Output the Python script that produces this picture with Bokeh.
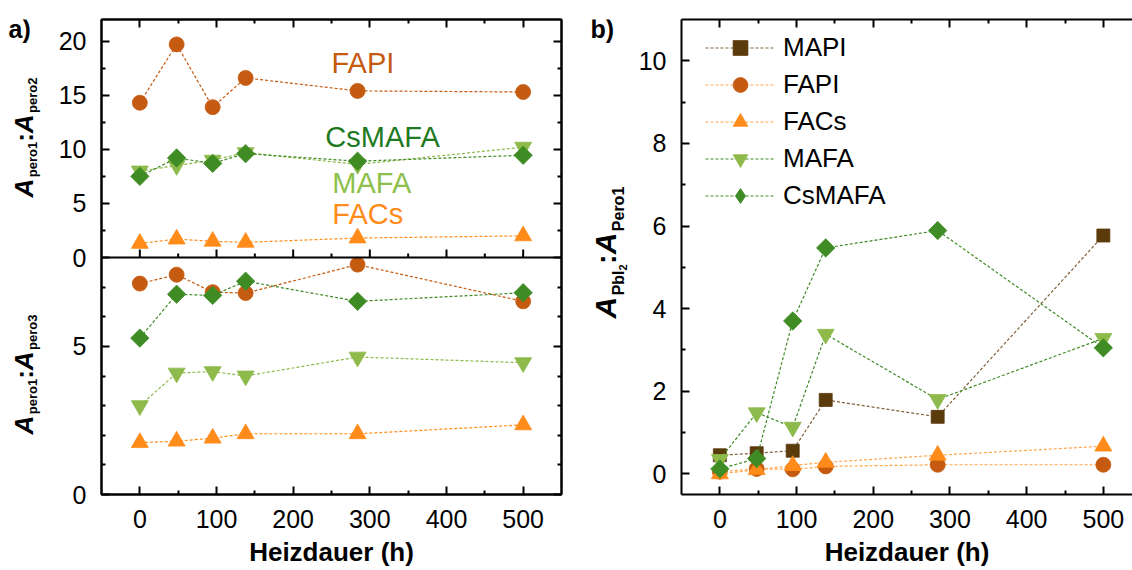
import numpy as np
from bokeh.plotting import figure
from bokeh.models import Range1d, LinearAxis, Label, Legend, LegendItem, FixedTicker, Span
from bokeh.layouts import row
from bokeh.embed import file_html
from bokeh.resources import INLINE

FONT = "Liberation Sans"

# ---------------- data ----------------
hours = [0, 48, 95, 138, 284, 500]

# panel a (top): A_pero1 : A_pero2
top_fapi = [14.3, 19.7, 13.9, 16.6, 15.4, 15.3]
top_csmafa = [7.5, 9.2, 8.7, 9.6, 8.9, 9.45]
top_mafa = [8.0, 8.5, 9.0, 9.7, 8.6, 10.2]
top_facs = [1.3, 1.7, 1.5, 1.4, 1.8, 2.0]

# panel a (bottom): A_pero1 : A_pero3
bot_fapi = [7.12, 7.42, 6.83, 6.8, 7.76, 6.52]
bot_csmafa = [5.28, 6.76, 6.72, 7.2, 6.52, 6.81]
bot_mafa = [3.0, 4.1, 4.15, 4.0, 4.64, 4.45]
bot_facs = [1.75, 1.8, 1.9, 2.05, 2.05, 2.35]

# panel b: A_PbI2 : A_Pero1
b_mapi = [0.45, 0.5, 0.56, 1.79, 1.38, 5.77]
b_fapi = [0.05, 0.12, 0.11, 0.18, 0.22, 0.22]
b_facs = [0.0, 0.1, 0.2, 0.28, 0.45, 0.67]
b_mafa = [0.35, 1.48, 1.13, 3.38, 1.8, 3.28]
b_csmafa = [0.12, 0.37, 3.7, 5.47, 5.89, 3.05]

series_names = ["MAPI", "FAPI", "FACs", "MAFA", "CsMAFA"]
x_ticks = [0, 100, 200, 300, 400, 500]
x_minor = [50, 150, 250, 350, 450]
top_ticks = [0, 5, 10, 15, 20]
top_minor = [2.5, 7.5, 12.5, 17.5]
bot_ticks = [0, 5]
bot_minor = [1, 2, 3, 4, 6, 7]
b_ticks = [0, 2, 4, 6, 8, 10]
b_minor = [1, 3, 5, 7, 9]

# in-plot labels of panel a (top)
a_label_text = ["FAPI", "CsMAFA", "MAFA", "FACs"]
a_label_x = [250, 242, 251, 251]
a_label_y = [17.95, 11.15, 6.9, 4.0]

# ---------------- styles ----------------
C_MAPI = "#5B3A0C"
C_MAPI_LINE = "#80603A"
C_FAPI = "#C55A11"
C_FACS = "#FF8C1A"
C_FACS_LINE = "#FFA64D"
C_MAFA = "#8DBA4B"
C_CSMAFA = "#3F8B24"
a_label_colors = [C_FAPI, "#1F7A1F", "#8DC04B", C_FACS]
DASH = "3 2"

TOP_B, BOT_B = 19, 76          # border above / below every frame (px)

W = {'A': 0.722, 'p': 0.611, 'e': 0.556, 'r': 0.389, 'o': 0.611, '1': 0.556,
     '2': 0.556, '3': 0.556, ':': 0.333, 'P': 0.667, 'b': 0.611, 'I': 0.278}


def tw(s, size):
    return sum(W[c] for c in s) * size


def label_fig(width):
    # a plain strip whose frame coordinates equal page pixels (y downwards)
    p = figure(width=width, height=570, x_range=Range1d(0, width),
               y_range=Range1d(570 - BOT_B, TOP_B),
               output_backend="svg", toolbar_location=None,
               x_axis_location=None, y_axis_location=None,
               min_border_left=0, min_border_right=0,
               min_border_top=TOP_B, min_border_bottom=BOT_B)
    p.grid.visible = False
    p.outline_line_color = None
    p.background_fill_color = "white"
    p.border_fill_color = "white"
    return p


def rich_ylabel(p, segments, y_start):
    # segments: (text, size, style, x of vertical middle); text reads bottom -> top
    y = y_start
    for text, size, style, xm in segments:
        p.add_layout(Label(x=xm, y=y, text=text, angle=np.pi / 2, text_font=FONT,
                           text_font_size=f"{size}px", text_font_style=style,
                           text_align="left", text_baseline="middle",
                           text_color="black"))
        y -= tw(text, size) + (1.5 if "italic" in style else 0)


def add_axis(p, side, ticks, minor, labels, overrides=None, standoff=15):
    ax = LinearAxis(ticker=FixedTicker(ticks=ticks, minor_ticks=minor))
    ax.axis_line_width = 2
    ax.axis_line_color = "black"
    ax.major_tick_in = 8
    ax.major_tick_out = 0
    ax.minor_tick_in = 4
    ax.minor_tick_out = 0
    ax.major_tick_line_width = 2
    ax.minor_tick_line_width = 2
    ax.major_label_text_font = FONT
    if labels:
        ax.major_label_text_color = "black"
        ax.major_label_text_font_size = "25px"
        ax.major_label_standoff = standoff
    else:
        ax.major_label_text_color = None
        ax.major_label_text_font_size = "1px"
        ax.major_label_standoff = 0
    if overrides:
        ax.major_label_overrides = overrides
    ax.axis_label_text_font = FONT
    ax.axis_label_text_font_size = "26px"
    ax.axis_label_text_font_style = "bold"
    ax.axis_label_text_color = "black"
    ax.axis_label_standoff = 6
    p.add_layout(ax, side)
    return ax


def make_fig(width, xr, yr, left_b, right_b, outline=True):
    p = figure(width=width, height=570, x_range=xr, y_range=yr,
               output_backend="svg", toolbar_location=None,
               x_axis_location=None, y_axis_location=None,
               min_border_left=left_b, min_border_right=right_b,
               min_border_top=TOP_B, min_border_bottom=BOT_B)
    p.grid.visible = False
    p.background_fill_color = "white"
    p.border_fill_color = "white"
    if outline:
        p.outline_line_color = "black"
        p.outline_line_width = 2
        p.outline_line_alpha = 1
    else:
        p.outline_line_color = None
    return p


def series(p, x, y, line_color, marker, fill, size, angle=0.0, rng="default"):
    lr = p.line(x, y, line_color=line_color, line_width=1.2, line_dash=DASH,
                y_range_name=rng)
    sr = p.scatter(x, y, marker=marker, size=size, fill_color=fill,
                   line_color=fill, line_width=0.8, angle=angle, y_range_name=rng)
    return lr, sr


DIAMOND = dict(marker="square", size=13, angle=np.pi / 4)

# ---------------- panel a (two stacked sub-panels in one frame) ----------------
FRAME_H = 570 - TOP_B - BOT_B   # 475 px
SPLIT = 237                     # px of the lower sub-panel
bot_max = 8
top_max = 22
yd_end = bot_max * FRAME_H / SPLIT
top_start = -top_max * SPLIT / (FRAME_H - SPLIT)


def top_to_def(v):
    return bot_max + v * (yd_end - bot_max) / top_max


pa = make_fig(530, Range1d(-50, 550), Range1d(0, yd_end), 51, 19)
pa.extra_y_ranges = {"top": Range1d(top_start, top_max)}

left_major = [float(v) for v in bot_ticks] + [top_to_def(v) for v in top_ticks]
left_minor = [float(v) for v in bot_minor] + [top_to_def(v) for v in top_minor]
overrides = {float(v): str(v) for v in bot_ticks}
overrides.update({top_to_def(v): str(v) for v in top_ticks})

add_axis(pa, "left", left_major, left_minor, True, overrides)
add_axis(pa, "right", left_major, left_minor, False)
add_axis(pa, "above", x_ticks, x_minor, False)
axb = add_axis(pa, "below", x_ticks, x_minor, True, standoff=15)
axb.axis_label = "Heizdauer (h)"

pa.add_layout(Span(location=bot_max, dimension="width", line_color="black", line_width=2))
px_per_top = (FRAME_H - SPLIT) / top_max
pa.segment(x0=x_ticks, y0=[0] * len(x_ticks), x1=x_ticks, y1=[8 / px_per_top] * len(x_ticks),
           line_color="black", line_width=2, y_range_name="top")
pa.segment(x0=x_minor, y0=[0] * len(x_minor), x1=x_minor, y1=[4 / px_per_top] * len(x_minor),
           line_color="black", line_width=2, y_range_name="top")

# upper sub-panel
series(pa, hours, top_facs, C_FACS, "triangle", C_FACS, 17, rng="top")
series(pa, hours, top_mafa, C_MAFA, "inverted_triangle", C_MAFA, 17, rng="top")
series(pa, hours, top_csmafa, C_CSMAFA, DIAMOND["marker"], C_CSMAFA, DIAMOND["size"],
       DIAMOND["angle"], rng="top")
series(pa, hours, top_fapi, C_FAPI, "circle", C_FAPI, 15, rng="top")

for t, xx, yy, c in zip(a_label_text, a_label_x, a_label_y, a_label_colors):
    pa.add_layout(Label(x=xx, y=yy, text=t, text_font=FONT, text_font_size="29px",
                        text_color=c, text_align="left", text_baseline="middle",
                        y_range_name="top"))

# lower sub-panel
series(pa, hours, bot_facs, C_FACS, "triangle", C_FACS, 17)
series(pa, hours, bot_mafa, C_MAFA, "inverted_triangle", C_MAFA, 17)
series(pa, hours, bot_fapi, C_FAPI, "circle", C_FAPI, 15)
series(pa, hours, bot_csmafa, C_CSMAFA, DIAMOND["marker"], C_CSMAFA, DIAMOND["size"],
       DIAMOND["angle"])

# label strip for panel a
la = label_fig(50)
la.add_layout(Label(x=8, y=28, text="a)", text_font=FONT, text_font_size="25px",
                    text_font_style="bold", text_color="black",
                    text_align="left", text_baseline="middle"))
rich_ylabel(la, [("A", 26, "bold italic", 23.5), ("pero1", 13, "bold", 31.5),
                 (":", 26, "bold", 23.5), ("A", 26, "bold italic", 23.5),
                 ("pero2", 13, "bold", 31.5)], 197)
rich_ylabel(la, [("A", 26, "bold italic", 23.5), ("pero1", 13, "bold", 31.5),
                 (":", 26, "bold", 23.5), ("A", 26, "bold italic", 23.5),
                 ("pero3", 13, "bold", 31.5)], 434)

# ---------------- panel b ----------------
pb = make_fig(502, Range1d(-50, 538), Range1d(-0.5, 11), 51, 0, outline=False)
add_axis(pb, "left", b_ticks, b_minor, True)
add_axis(pb, "above", x_ticks, x_minor, False)
axb2 = add_axis(pb, "below", x_ticks, x_minor, True, standoff=15)
axb2.axis_label = "Heizdauer (h)"

r_mapi = series(pb, hours, b_mapi, C_MAPI_LINE, "square", C_MAPI, 13)
r_fapi = series(pb, hours, b_fapi, C_FACS_LINE, "circle", C_FAPI, 15)
r_facs = series(pb, hours, b_facs, C_FACS_LINE, "triangle", C_FACS, 17)
r_mafa = series(pb, hours, b_mafa, C_CSMAFA, "inverted_triangle", C_MAFA, 17)
r_cs = series(pb, hours, b_csmafa, C_CSMAFA, DIAMOND["marker"], C_CSMAFA, DIAMOND["size"],
              DIAMOND["angle"])
# legend-only diamond (legend markers are drawn unrotated)
r_cs_key = pb.scatter(hours, b_csmafa, marker="diamond", size=20, fill_color=C_CSMAFA,
                      line_color=C_CSMAFA, visible=False)

items = [LegendItem(label=n, renderers=list(r)) for n, r in
         zip(series_names[:4], [r_mapi, r_fapi, r_facs, r_mafa])]
items.append(LegendItem(label=series_names[4], renderers=[r_cs[0], r_cs_key]))
leg = Legend(items=items, location=(24, 280), orientation="vertical",
             glyph_width=70, glyph_height=37, label_height=37, spacing=0,
             padding=0, margin=0, label_standoff=8, border_line_color=None,
             background_fill_alpha=0, label_text_font=FONT,
             label_text_font_size="26px", label_text_color="black")
pb.add_layout(leg)

lb = label_fig(50)
lb.add_layout(Label(x=10, y=28, text="b)", text_font=FONT, text_font_size="25px",
                    text_font_style="bold", text_color="black",
                    text_align="left", text_baseline="middle"))
rich_ylabel(lb, [("A", 30, "bold italic", 24.5), ("PbI", 16, "bold", 37.5),
                 ("2", 11, "bold", 42), (":", 30, "bold", 24.5),
                 ("A", 30, "bold italic", 24.5), ("Pero1", 16, "bold", 38)], 318)

layout = row(la, pa, lb, pb)
open("out.html", "w").write(file_html(layout, INLINE))
